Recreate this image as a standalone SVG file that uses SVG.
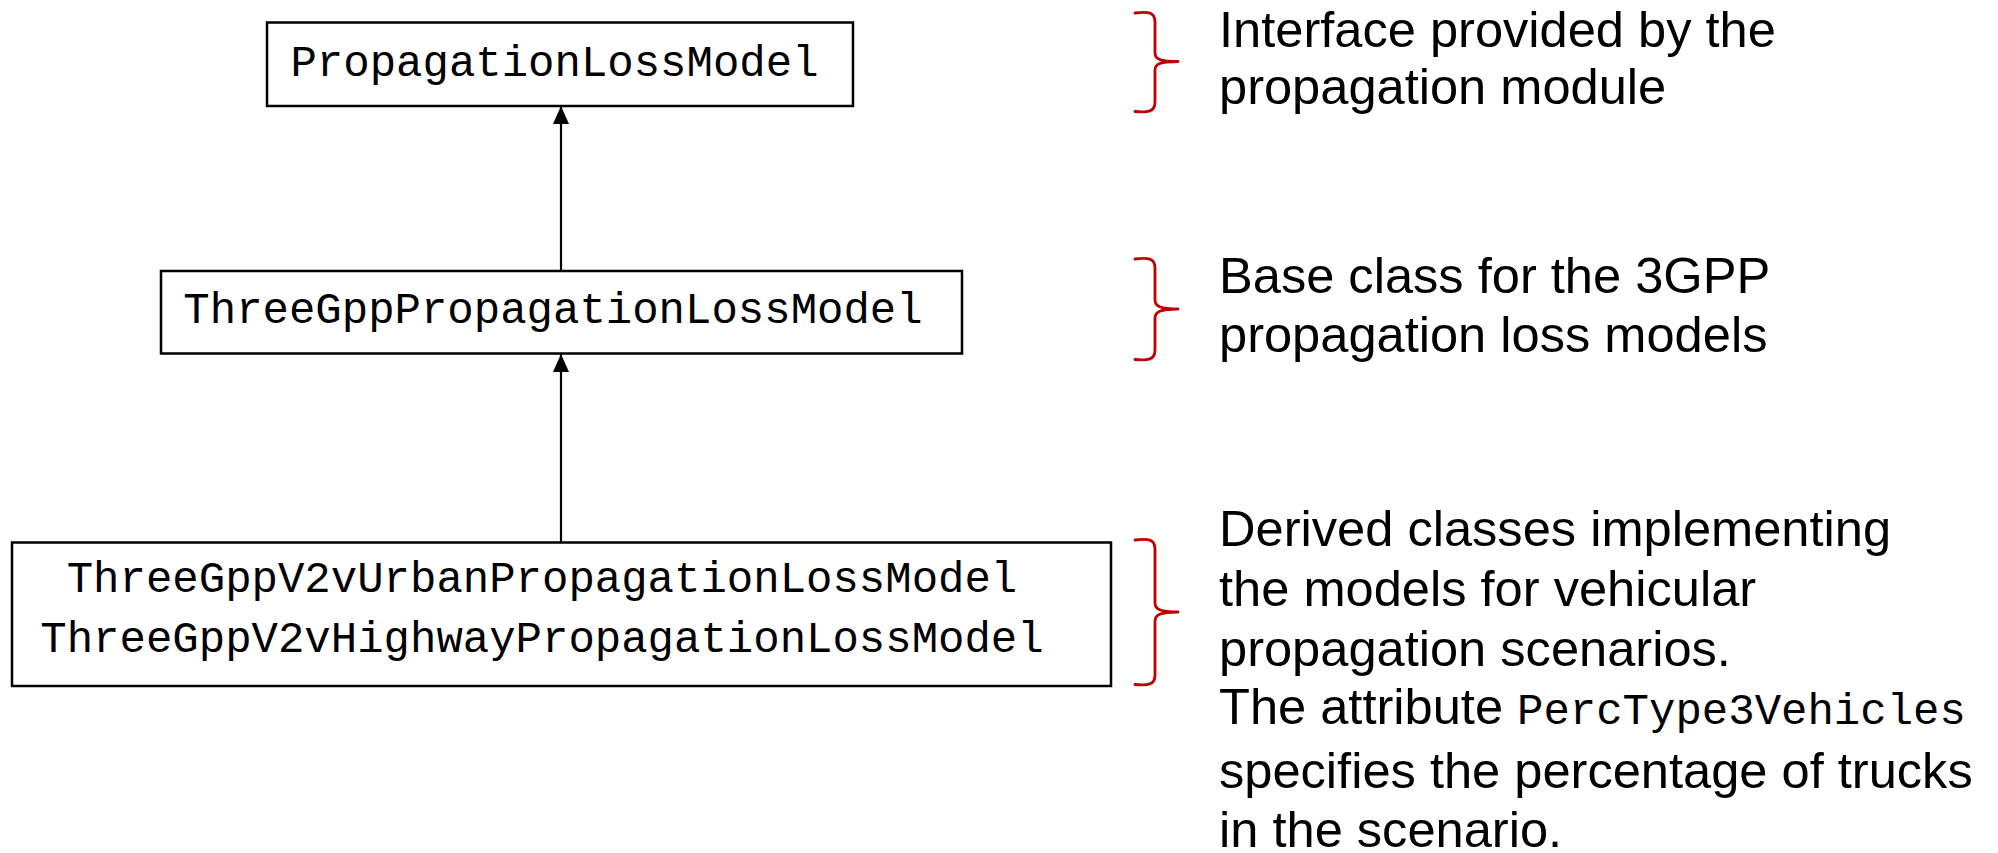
<svg xmlns="http://www.w3.org/2000/svg" width="1998" height="853" viewBox="0 0 1998 853">
  <style>
    .box { fill: #ffffff; stroke: #000000; stroke-width: 2.5; }
    .mono { font-family: "Liberation Mono", "DejaVu Sans Mono", monospace; font-size: 44px; fill: #000000; }
    .desc { font-family: "Liberation Sans", Arial, sans-serif; font-size: 50.6px; fill: #000000; }
    .descmono { font-family: "Liberation Mono", "DejaVu Sans Mono", monospace; font-size: 44px; }
    .brace { fill: none; stroke: #C00000; stroke-width: 2.8; stroke-linecap: round; stroke-linejoin: round; }
    .conn { stroke: #000000; stroke-width: 2.2; fill: none; }
  </style>
  <defs>
    <marker id="arrow" viewBox="0 0 18 16" refX="18" refY="8" markerWidth="18" markerHeight="16" markerUnits="userSpaceOnUse" orient="auto">
      <path d="M0,0 L18,8 L0,16 Z" fill="#000000"/>
    </marker>
  </defs>
  <rect width="1998" height="853" fill="#ffffff"/>

  <g id="connectors">
    <path class="conn" d="M561,271 L561,106" marker-end="url(#arrow)"/>
    <path class="conn" d="M561,542 L561,354" marker-end="url(#arrow)"/>
  </g>

  <g id="node-propagationlossmodel">
    <rect class="box" x="267" y="22.5" width="586" height="83.5"/>
    <text class="mono" x="554.5" y="76" text-anchor="middle">PropagationLossModel</text>
  </g>

  <g id="node-threegpppropagationlossmodel">
    <rect class="box" x="161" y="271" width="801" height="82.5"/>
    <text class="mono" x="553" y="322.5" text-anchor="middle">ThreeGppPropagationLossModel</text>
  </g>

  <g id="node-derived">
    <rect class="box" x="12" y="542.5" width="1099" height="143.5"/>
    <text class="mono" x="542" y="592" text-anchor="middle">ThreeGppV2vUrbanPropagationLossModel</text>
    <text class="mono" x="542" y="652" text-anchor="middle">ThreeGppV2vHighwayPropagationLossModel</text>
  </g>

  <g id="note-interface">
    <path class="brace" d="M1135,13 C1148,11.5 1155,12 1155,22 L1155,53 C1155,59 1160,61.5 1178,61.5 C1160,61.5 1155,64 1155,70 L1155,102 C1155,112 1148,112.5 1135,111.5"/>
    <text class="desc" x="1219" y="47">Interface provided by the</text>
    <text class="desc" x="1219" y="104">propagation module</text>
  </g>

  <g id="note-base">
    <path class="brace" d="M1135,259 C1148,257.5 1155,258 1155,268 L1155,300 C1155,306 1160,309 1178,309 C1160,309 1155,312 1155,318 L1155,350 C1155,360 1148,360.5 1135,359.5"/>
    <text class="desc" x="1219" y="293">Base class for the 3GPP</text>
    <text class="desc" x="1219" y="352">propagation loss models</text>
  </g>

  <g id="note-derived">
    <path class="brace" d="M1135,540 C1148,538.5 1155,539 1155,549 L1155,603 C1155,609 1160,612 1178,612 C1160,612 1155,615 1155,621 L1155,675 C1155,685 1148,685.5 1135,684.5"/>
    <text class="desc" x="1219" y="546">Derived classes implementing</text>
    <text class="desc" x="1219" y="606">the models for vehicular</text>
    <text class="desc" x="1219" y="666">propagation scenarios.</text>
    <text class="desc" x="1219" y="724">The attribute <tspan class="descmono" x="1517">PercType3Vehicles</tspan></text>
    <text class="desc" x="1219" y="788">specifies the percentage of trucks</text>
    <text class="desc" x="1219" y="847">in the scenario.</text>
  </g>
</svg>
